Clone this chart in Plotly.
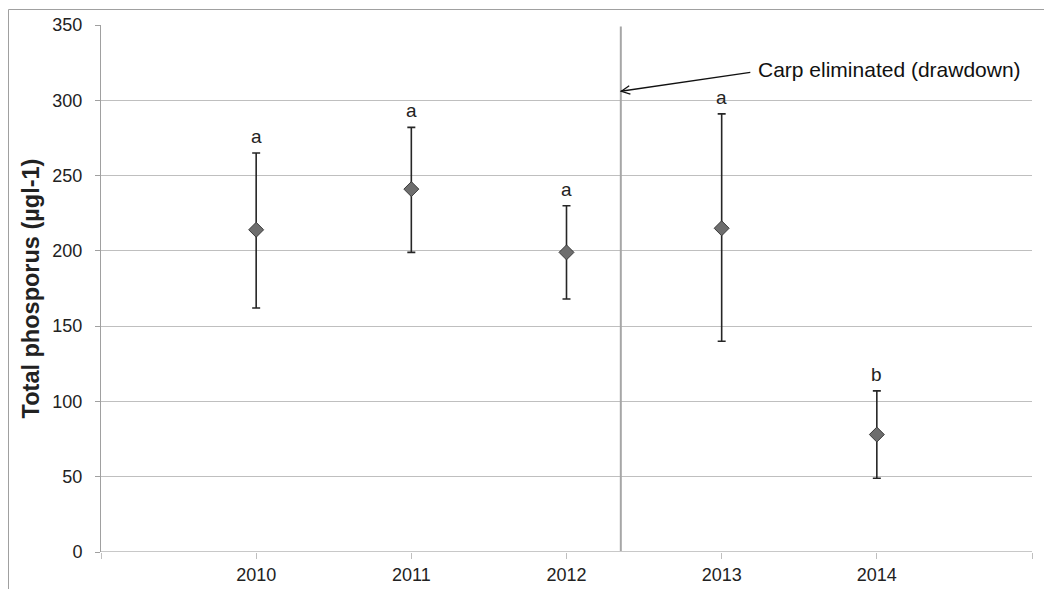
import plotly.graph_objects as go

years = [2010, 2011, 2012, 2013, 2014]
mean_tp = [214, 241, 199, 215, 78]
upper_tp = [265, 282, 230, 291, 107]
lower_tp = [162, 199, 168, 140, 49]
letters = ["a", "a", "a", "a", "b"]
event_x = 2012.35
event_arrow_y = 306
event_label = "Carp eliminated (drawdown)"

err_plus = [u - m for u, m in zip(upper_tp, mean_tp)]
err_minus = [m - l for m, l in zip(mean_tp, lower_tp)]

fig = go.Figure()
fig.add_trace(go.Scatter(
    x=years, y=mean_tp, mode="markers",
    marker=dict(symbol="diamond", size=11.5, color="#6e6e6e",
                line=dict(color="#3a3a3a", width=1)),
    error_y=dict(type="data", array=err_plus, arrayminus=err_minus,
                 color="#262626", thickness=1.6, width=4),
    showlegend=False,
))

# event vertical line
fig.add_shape(type="line", xref="x", yref="y", x0=event_x, x1=event_x, y0=0, y1=349,
              line=dict(color="#a6a6a6", width=2))

# outer frame (figure border)
fig.add_shape(type="rect", xref="paper", yref="paper",
              x0=(8.5 - 101) / 931, x1=1.1, y0=-0.2, y1=1 + (25 - 9.5) / 527,
              line=dict(color="#a0a0a0", width=1), layer="below")

for x, u, t in zip(years, upper_tp, letters):
    fig.add_annotation(x=x, y=u, text=t, showarrow=False, yanchor="bottom",
                       yshift=4, font=dict(size=19, color="#222222"))

# arrow line from label to event line
fig.add_annotation(x=event_x, y=event_arrow_y, ax=131, ay=-19,
                   xref="x", yref="y", text="", showarrow=True,
                   arrowhead=0, arrowcolor="#111111", arrowwidth=1.3)
# open chevron arrow head
fig.add_shape(type="path", xref="x", yref="y", xsizemode="pixel", ysizemode="pixel",
              xanchor=event_x, yanchor=event_arrow_y,
              path="M 8.4,5.5 L 0.5,0 L 9.6,-2.9",
              line=dict(color="#111111", width=1.3))
fig.add_annotation(xref="paper", yref="paper", x=(756 - 101) / 931, y=(552 - 69) / 527,
                   xanchor="left", yanchor="middle", text=event_label, showarrow=False,
                   font=dict(size=21, color="#111111"))

fig.update_layout(
    width=1044, height=581,
    margin=dict(l=93, r=20, t=17, b=37, autoexpand=False),
    paper_bgcolor="white", plot_bgcolor="white",
    font=dict(family="Liberation Sans, Arial, sans-serif", color="#222222"),
    xaxis=dict(range=[2009, 2015], tickvals=[2009, 2010, 2011, 2012, 2013, 2014, 2015],
               ticktext=["", "2010", "2011", "2012", "2013", "2014", ""],
               ticks="outside", ticklen=6, tickcolor="#bfbfbf", tickwidth=1,
               showgrid=False, zeroline=False, showline=False, automargin=False,
               tickfont=dict(size=18, color="#222222")),
    yaxis=dict(range=[0, 350], dtick=50, ticks="outside", ticklen=5, automargin=False,
               ticklabelstandoff=9,
               tickcolor="#a0a0a0", showgrid=True, gridcolor="#bfbfbf", gridwidth=1,
               zeroline=False, showline=True, linecolor="#a0a0a0", linewidth=1,
               tickfont=dict(size=18, color="#222222"),
               title=dict(text="<b>Total phosporus (µgl-1)</b>", font=dict(size=23.5, color="#222222"),
                          standoff=6)),
)
# x-axis baseline at zero
fig.add_shape(type="line", xref="paper", yref="y", x0=0, x1=1, y0=0, y1=0,
              line=dict(color="#c8c8c8", width=2))

fig.write_html("out.html")
